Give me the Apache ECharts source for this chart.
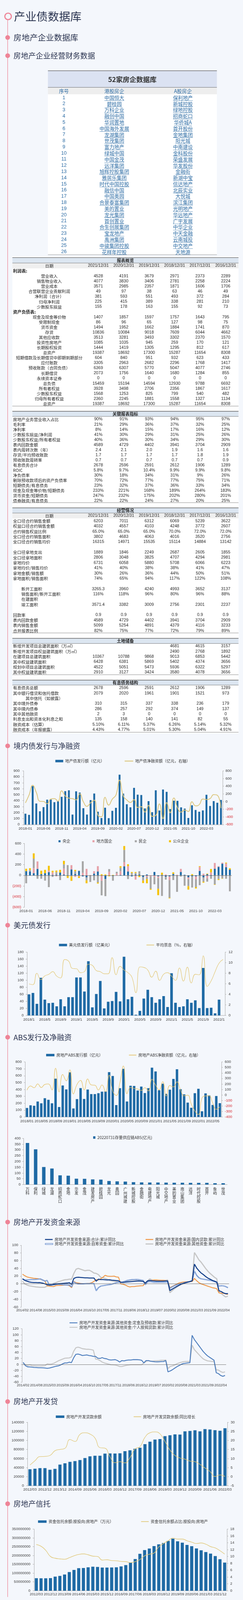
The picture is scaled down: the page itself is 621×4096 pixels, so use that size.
<!DOCTYPE html>
<html>
<head>
<meta charset="utf-8">
<script src="https://cdn.jsdelivr.net/npm/echarts@6/dist/echarts.min.js"></script>
<style>
html,body{margin:0;padding:0;background:#f4f7fc;}
#main{width:621px;height:4096px;}
</style>
</head>
<body>
<div id="main"></div>
<script>
// ---------------- DATA ----------------
const hkFirms = ['中国恒大','碧桂园','万科企业','融创中国','华润置地','中国海外发展','龙湖集团','世茂集团','富力地产','绿城中国','中国金茂','远洋集团','旭辉控股集团','雅居乐集团','时代中国控股','融信中国','中国奥园','合景泰富集团','美的置业','龙光集团','首创置业','合生创展集团','宝龙地产','禹洲集团','中骏集团控股','花样年控股'];
const aFirms = ['保利地产','新城控股','绿地控股','招商蛇口','华侨城A','首开股份','金地集团','阳光城','中南建设','金科股份','荣盛发展','华发股份','金融街','新湖中宝','信达地产','北辰实业','大悦城','滨江集团','光明地产','华远地产','广宇发展','中华企业','中天金融','云南城投','中交地产','天地源'];

const reportDates = ['2021/12/31','2020/12/31','2019/12/31','2018/12/31','2017/12/31','2016/12/31'];
const incomeRows = [
  ['营业收入','4528','4191','3679','2971','2373','2289'],
  ['销售物业收入','4077','3830','3406','2781','2258','2224'],
  ['营业成本','3571','2985','2357','1871','1606','1706'],
  ['合营联营企业贡献利润','49','97','38','63','46','49'],
  ['净利润（合计）','381','593','551','493','372','284'],
  ['归母净利润','225','415','389','338','281','210'],
  ['少数股东损益','155','178','163','155','92','73']
];
const balanceRows = [
  ['现金及现金等价物','1407','1857','1597','1757','1643','795'],
  ['受限制现金','86','96','65','127','98','75'],
  ['货币资金','1494','1952','1662','1884','1741','870'],
  ['存货','10836','10084','9018','7609','6044','4662'],
  ['其他应收款','3513','3281','3493','3302','2370','1570'],
  ['投资性房地产','1085','1035','945','259','170','121'],
  ['长期股权投资','1444','1419','1305','1295','812','617'],
  ['总资产','19387','18692','17300','15287','11654','8308'],
  ['短期借款及长期借贷中即期到期部分','604','840','951','932','623','433'],
  ['应付账款','3305','2963','2682','2296','1768','1417'],
  ['预收账款（合同负债）','6369','6307','5770','5047','4077','2746'],
  ['长期借贷','2073','1756','1640','1680','1284','855'],
  ['永续资本证券','0','0','0','0','0','0'],
  ['总负债','15459','15194','14594','12930','9788','6692'],
  ['所有者权益','3928','3498','2706','2356','1867','1617'],
  ['少数股东权益','1568','1253','825','799','540','482'],
  ['归母所有者权益','2360','2245','1881','1558','1327','1134'],
  ['总资产','19387','18692','17300','15287','11654','8308']
];
const keyRows = [
  ['房地产业务营业收入占比','90%','91%','93%','94%','95%','97%'],
  ['毛利率','21%','29%','36%','37%','32%','25%'],
  ['净利率','8%','14%','15%','17%','16%','12%'],
  ['少数股东损益/净利润','41%','30%','29%','31%','25%','26%'],
  ['少数股东权益/所有者权益','40%','36%','30%','34%','29%','30%'],
  ['表内回款金额','4589','4729','4402','3941','3704','2909'],
  ['表内周转次数（年）','2.4','2.1','2.0','1.9','1.6','1.6'],
  ['存货/平均预收账款','1.7','1.7','1.7','1.7','1.8','1.9'],
  ['预收账款周转率','0.7','0.7','0.7','0.7','0.7','0.9'],
  ['有息债务合计','2678','2596','2591','2612','1906','1289'],
  ['ROIC','5.8%','9.7%','10.4%','9.9%','9.9%','9.8%'],
  ['净负债率','30%','18%','34%','31%','9%','26%'],
  ['剔除预收款项后的资产负债率','70%','72%','77%','77%','75%','71%'],
  ['短期债务/有息债务','23%','32%','37%','36%','33%','34%'],
  ['现金及现金等价物/短期债务','233%','221%','168%','189%','264%','183%'],
  ['货币资金/短期债务','247%','232%','175%','202%','280%','201%'],
  ['债券融资/有息债务','22%','22%','24%','27%','20%','25%']
];
const operRows = [
  ['全口径合约销售金额','6203','7011','6312','6069','5239','3622'],
  ['权益口径合约销售金额','4032','4557','4103','4248','3772','2607'],
  ['合约销售权益比例','65.0%','65.0%','65.0%','70.0%','72.0%','72.0%'],
  ['全口径合约销售面积','3802','4683','4063','4016','3520','2756'],
  ['全口径合约销售均价','16315','14971','15535','15114','14884','13142'],
  [''],
  ['全口径拿地支出','1889','1846','2249','2687','2605','1855'],
  ['全口径拿地面积','2806','3048','3825','4707','4294','2981'],
  ['拿地均价','6731','6058','5880','5708','6066','6223'],
  ['拿地均价/销售均价','41%','40%','38%','38%','41%','47%'],
  ['拿地金额/销售额','30%','26%','36%','44%','50%','51%'],
  ['拿地面积/销售面积','74%','65%','94%','117%','122%','108%'],
  [''],
  ['\u3000\u3000新开工面积','3265.3','3960','4240','4993','3652','3137'],
  ['\u3000\u3000销售面积/新开工面积','116%','118%','96%','80%','96%','88%'],
  ['\u3000\u3000在建面积'],
  ['\u3000\u3000竣工面积','3571.4','3382','3009','2756','2301','2237'],
  [''],
  ['回款率','0.9','0.9','0.9','0.9','0.9','0.9'],
  ['表内回款金额','4589','4729','4402','3941','3704','2909'],
  ['表内销售金额','5099','5254','4891','4379','4116','3233'],
  ['合并报表比例','82%','75%','77%','72%','79%','89%']
];
const landRows = [
  ['新增开发项目总建筑面积（万㎡）','','','','4681','4615','3157'],
  ['新增开发项目权益建筑面积（万㎡）','','','','2490','2768','1892'],
  ['在建项目总建筑面积','10367','10788','9868','9013','6853','5442'],
  ['其中权益建筑面积','6428','6381','5869','5402','4374','3656'],
  ['规划中项目总建筑面积','4522','5051','5473','5936','6322','5297'],
  ['其中权益建筑面积','2910','3127','3424','3580','4078','3656']
];
const debtRows = [
  ['有息债务总额','2678','2596','2591','2612','1906','1289'],
  ['其中银行借贷和信托借款','2079','2020','1961','1901','1521','973'],
  ['\u3000\u3000\u3000其中信托（如披露）'],
  ['其中境外债券','310','315','337','338','236','179'],
  ['其中境内债券','286','257','292','374','149','137'],
  ['其中其他融资','2','3','0','0','0','0'],
  ['利息支出和资本化利息之和','135','158','140','141','82','55'],
  ['融资成本（估算）','5.10%','6.11%','5.37%','6.26%','5.14%','5.32%'],
  ['融资成本（年报披露）','4.43%','4.77%','5.01%','5.30%','5.04%','4.91%']
];

// category helpers (labels only)
function monthCats(y, m, n, sep, pad, skipJan) {
  const out = [];
  while (out.length < n) {
    if (!(skipJan && m === 1)) out.push(y + sep + (pad && m < 10 ? '0' + m : m));
    m++; if (m > 12) { m = 1; y++; }
  }
  return out;
}
function quarterCats(y, m, n) {
  const out = [];
  while (out.length < n) { out.push(y + '/' + (m < 10 ? '0' + m : m)); m += 3; if (m > 12) { m -= 12; y++; } }
  return out;
}
const months1 = monthCats(2018, 1, 55, '-', true);
const months3 = monthCats(2018, 1, 50, '/', false);
const months4 = monthCats(2018, 1, 55, '/', true);
const months6 = monthCats(2014, 2, 93, '/', true, true);
const quarters8 = ['2012/03','2012/06','2012/09','2012/12','2013/06','2013/09'].concat(quarterCats(2013, 12, 34));
const quarters9 = quarterCats(2012, 3, 41);

// 境内债发行与净融资
const bondIssue = [182,162,645,353,222,292,417,420,375,390,465,560,574,167,557,536,274,167,410,520,215,109,282,107,230,280,836,519,340,289,615,501,495,270,392,207,574,235,587,548,259,400,397,288,267,110,323,244,215,237,499,311,393,365,412];
const bondNet = [-35,170,424,239,7,2,-58,65,76,7,280,146,88,76,42,204,-5,-125,-32,35,-352,-399,111,-93,65,169,559,151,42,-23,49,-155,-132,-276,-97,-387,-364,-63,-445,-28,-294,93,-160,-276,-220,-260,-5,-114,-81,65,53,76,181,165,-174];
// net financing by owner type
const netCentral = [78,71,40,121,22,40,60,10,12,53,14,-10,111,26,80,-20,-38,0,32,71,-4,-71,0,-14,0,6,168,71,-20,16,16,-34,16,0,63,-20,10,-24,-20,26,0,63,10,-38,-20,-20,83,-38,20,6,123,158,218,152,107];
const netLocal = [0,0,95,140,0,0,32,45,-20,0,113,0,80,-30,-20,46,121,6,45,101,-100,0,67,0,36,71,80,103,0,-81,0,0,-30,-20,-30,-30,0,16,-71,0,10,58,0,-36,0,-55,75,30,-59,50,109,14,20,73,0];
const netPrivate = [-150,32,180,-65,-65,-100,-222,-30,48,-90,80,192,-20,50,10,218,-57,-125,-95,-135,-273,-321,50,-87,30,65,230,-71,42,30,61,-65,-40,-232,-139,-203,-388,-57,-331,-89,-311,-24,-196,-130,-210,-147,-186,-81,-60,-65,-172,-71,-59,-65,-301];
const netPublic = [46,30,98,0,65,63,87,30,30,50,65,-40,-85,26,-30,0,-55,0,0,-20,20,16,-18,8,0,30,73,34,20,16,-34,-47,-80,-20,0,-121,40,0,-12,30,0,0,0,-65,22,-26,14,-20,12,63,-8,-18,-6,14,26];

// 美元债
const usdIssue = [60,64,33,107,45,35,36,26,46,26,52,52,108,108,68,154,23,61,98,20,39,41,67,40,167,46,53,2,13,48,73,52,36,46,55,24,120,36,24,26,46,36,43,21,135,21,22,6,45,null];
const usdCoupon = [5.98,5.83,8.0,6.8,7.5,7.8,8.3,7.45,7.1,10.6,10.3,8.9,8.85,8.1,8.3,9.7,9.5,8.5,8.3,7.9,7.9,10.95,7.7,9.3,8.6,8.1,7.25,4.3,9.2,9.1,8.6,7.25,8.4,6.65,7.8,8.1,7.45,6.65,9.0,6.5,9.15,6.15,7.8,7.7,11.3,5.5,6.55,8.3,9.9,10.6];

// ABS
const absIssue = [131,170,163,225,199,273,250,199,557,145,458,401,649,124,260,420,262,399,333,333,346,368,371,652,596,173,419,700,225,454,451,385,442,348,419,717,662,388,484,336,397,553,694,404,329,209,134,346,410,83,343,314,175,305,201];
const absNet = [87,164,131,200,136,191,200,91,487,55,373,258,458,18,191,264,91,291,182,178,91,182,58,358,73,-9,218,527,22,136,118,109,82,131,73,285,182,91,242,-18,173,145,240,91,-15,-4,-164,-291,-355,-55,-18,-15,-145,-260,-215];
const scfFirms = ['万科','保利','绿城','龙湖','招商蛇口','金地','华发','金茂','建发房产','碧桂园','龙光','奥园','广州城建','新城控股','金融街','电建地产','阳光城','中交地产','美的置业','南山集团','远洋','时代控股','首开','象屿','世茂'];
const scfValues = [360,305,152,139,80,77,51,50,45,43,31,28,26,21,19,18,18,17,16,16,15,15,15,12,12];

// 房地产开发资金来源 累计同比
const fundTotal = [
  13,9,7,5,4,3.5,3.5,3,3,2,0,
  -2,-3,-3,-2,-1,0,0.5,1,1.5,2,3,
  -1.5,14,16.5,17,16.5,16,15.5,15.5,15,15,15,
  7,12,11,11,10.5,10,10.5,9.5,9,8.5,8,
  4,4,4.5,5,5.5,6,6.5,7,7.5,7,6.5,
  2,7.5,9,8,7.5,7,7,7,7,7.5,7.6,
  -17.5,-14,-10.5,-7,-4,-1,1,3,4.5,6,8,
  51,41,34,28,24,19,15,12,9,7,4.5,
  -18,-20,-23.5,-25.5,-25.3];
const fundLoan = [
  25,21,18,16.5,15.5,14.5,14,13.5,12,10,8,
  -5,-6,-6.5,-7,-4.5,-4,-4,-3.5,-3,-3,-4.8,
  -10,6,3,2,1,0.5,0.5,1,1,3,6.4,
  11,10,13,17,22,20,19.5,19.5,20,18,17.3,
  0,-1,-3,-6,-8,-7,-7,-6,-5.5,-5,-4.9,
  3,5,7,9,10,10,9.5,9,9,8.5,7,
  -10,-7,-4,-1,2,3.5,4.5,5,5.5,5.5,6.1,
  14,8,3,0,-2,-4,-6,-8,-10,-11,-12.7,
  -23.5,-24,-24.5,-26,-27.5];
const fundSelf = [
  13,10,10.5,10.5,11,11,11.5,12,13,10,7,
  9,-3,-1,0,0,-0.5,-1,-2,-2.5,-3,-3,
  -8,5,1,0,0,0,0.5,0.5,0.5,1,0.5,
  -18,-10,-6,-5,-4,-3,-2,-1,1,3,4,
  4,5,7,9,10,11,11,11.5,11,10,9,
  -2,5,6,5,4,4,4,4,4,4.5,5,
  -12,-8,-5,-3,-1,1,2,4,5,6,8,
  33,22,16,13,12,11,10,9,8,6,4,
  -6,-5,-5.5,-7,-10];
const fundOther = [
  7,0,-3,-5,-6,-7,-8,-8.5,-9,-9,-9,
  -6,-4,-2,1,3,5.5,7,9,10.5,11,12,
  12,27,38,40,38,36,34,35,35,32,28,
  27,24,17,16,14,12,9,8,7,6,6,
  4,3,5,7,9,10,10,10,10,9,8,
  2,8,13,10,9,9,9,9,9,9,10,
  -23,-18,-13,-9,-5,-2,0,2,4,6,8,
  81,72,62,56,48,40,33,27,22,17,13,
  -22,-25,-30,-34,-32];
const fundDeposit = [
  7,-4,-8,-8.5,-9,-10,-10.5,-11,-11,-11.5,-12,
  -13,-12,-10,-8,-6,-5,-2,2,5,5,7.5,
  6,22,34,35,33,30,31,32,30,29,27,
  27,21,20,23,20,19,16,15,15.5,16,13,
  8,13,12,14,15,15,16,16,16,15.5,14,
  5,13,13,11,10,9,8.5,9,9.5,10,13,
  -25,-22,-18,-13,-8,-4,0,3,4,5,6,
  98,84,74,64,54,44,36,29,24,19,14,
  -28,-31,-37,-40,-37];
const fundMortgage = [
  3,0,-3,-1,-4,-4.5,-5,-5,-5,-4.5,-4,
  2,1,1.5,4,8,12,15,18,21,21.5,22,
  25,44,56,58,56,53,52,51,51,50,48,
  18,17,13,8,5,3,1,-1,-1.5,-2,-4,
  -7,-7,-5,-3,-2,-1,-1,-1,-1,-1,-1,
  5,10,13,11,11,12,12.5,13,14,14,15,
  -14,-7,-5,-2,2,5,7,9,10,10,10,
  65,50,42,34,26,19,15,12,11,10,10,
  -18,-19,-24,-27,-25];

// 房地产开发贷
const devLoan = [36400,37600,38900,38900,35300,37300,46700,49600,52700,54400,56700,61100,64900,66200,66200,70900,71300,71100,71600,76200,78200,81600,83800,91800,97100,101800,102900,109300,111300,113300,112900,120000,120700,122200,120000,124900,124000,122400,121100,126700];
const devLoanYoY = [6.4,8.8,11.1,11.2,11.7,14.3,15.0,15.6,20.5,19.4,23.3,24.2,23.5,21.3,16.0,15.7,11.0,7.7,8.3,7.6,10.5,15.3,16.5,21.7,24.2,24.7,23.6,19.4,14.7,11.7,10.3,9.7,8.6,8.3,6.8,4.8,2.9,0.1,0.95,0.1];

// 房地产信托
const trustBalance = [71000000,70500000,70500000,71500000,80000000,84000000,92000000,106000000,118000000,128000000,129000000,133000000,136500000,135000000,131500000,131500000,132000000,133000000,138000000,145600000,160000000,180000000,209500000,231000000,239500000,253700000,263800000,271400000,283000000,295800000,280600000,273000000,260000000,253000000,240000000,229800000,219700000,210600000,196900000,179000000,159800000];
const trustShare = [13.5,13.0,11.8,10.0,9.5,9.3,9.2,9.65,10.2,10.6,10.75,10.5,10.1,10.0,8.95,9.05,8.8,8.75,8.55,8.5,8.2,8.5,9.1,10.2,10.65,11.0,12.8,13.8,14.6,15.4,15.1,15.1,14.6,14.2,13.8,13.95,13.6,12.9,12.5,11.7,10.7];

// ---------------- LAYOUT ----------------
const k = 0.575;
const S = v => +(v * k).toFixed(2);
const CJK = "'Noto Sans CJK SC','Noto Sans',sans-serif";
const NUM = "'Liberation Sans',Arial,'Noto Sans CJK SC',sans-serif";
const PINK = '#ee8497', HEAD = '#2b3450', LINK = '#2a6aa3', BG = '#f4f7fc';
const BLUE = '#1f6aa5', KHAKI = '#dcc67c', RED = '#d7262d', AXC = '#aaaaaa', LBL = '#404040';
const G = [];
function txt(x, y, s, size, o) {
  o = o || {};
  const al = o.align || 'left';
  G.push({ type: 'text', silent: true, z: 20, x: S(x), y: S(y),
    style: { text: String(s), fill: o.color || '#222', fontSize: S(size), fontFamily: o.family || CJK,
      fontWeight: o.weight || 'normal', textAlign: al, textVerticalAlign: 'middle', align: al, verticalAlign: 'middle' } });
}
function rect(x, y, w, h, fill, z) {
  G.push({ type: 'rect', silent: true, z: z || 1, shape: { x: S(x), y: S(y), width: S(w), height: S(h) }, style: { fill: fill } });
}
function hline(x1, x2, y, color, w) {
  G.push({ type: 'line', silent: true, z: 6, shape: { x1: S(x1), y1: S(y), x2: S(x2), y2: S(y) }, style: { stroke: color, lineWidth: S(w) } });
}
function textWidth(s, size) {
  let w = 0;
  for (const ch of s) w += /[\u0000-\u00ff]/.test(ch) ? size * 0.6 : size;
  return w;
}

// timeline + headings
G.push({ type: 'line', silent: true, z: 2, shape: { x1: S(34), y1: S(90), x2: S(34), y2: S(7110) }, style: { stroke: PINK, lineWidth: S(2.2) } });
G.push({ type: 'circle', silent: true, z: 3, shape: { cx: S(36), cy: S(73), r: S(14.5) }, style: { fill: BG, stroke: PINK, lineWidth: S(5) } });
txt(62, 73, '产业债数据库', 50, { color: HEAD });
function section(y, t, size) {
  G.push({ type: 'circle', silent: true, z: 3, shape: { cx: S(34), cy: S(y), r: S(10.5) }, style: { fill: PINK } });
  txt(60, y, t, size, { color: HEAD });
}
section(167, '房地产企业数据库', 36);
section(248, '房地产企业经营财务数据', 33);
section(3321, '境内债发行与净融资', 33);
section(4119, '美元债发行', 33);
section(4618, 'ABS发行及净融资', 33);
section(5441, '房地产开发资金来源', 33);
section(6240, '房地产开发贷', 33);
section(6695, '房地产信托', 33);

// 52 firms table
hline(213, 964, 315, '#555', 2);
rect(213, 316, 751, 73, '#dbe2f2');
txt(588, 353, '52家房企数据库', 30, { weight: 'bold', align: 'center', color: '#333' });
hline(213, 964, 389, '#555', 1.5);
rect(213, 390, 751, 30, '#eeeeee');
rect(213, 420, 751, 714, '#ffffff');
txt(284, 405, '序号', 22, { align: 'center', color: LINK });
txt(508, 405, '港股房企', 22, { align: 'center', color: LINK });
txt(813, 405, 'A股房企', 22, { align: 'center', color: LINK });
function link(x, y, s) {
  txt(x, y, s, 22, { align: 'center', color: LINK });
  const w = textWidth(s, 22);
  hline(x - w / 2, x + w / 2, y + 13, LINK, 1.2);
}
hkFirms.forEach((n, i) => {
  const y = 435 + 27.45 * i;
  txt(284, y, i + 1, 22, { align: 'center', color: LINK, family: NUM });
  link(508, y, n);
  link(813, y, aFirms[i]);
});
hline(213, 964, 1134, '#888', 1.5);

// financial tables
const COLS = [437, 550, 663, 776, 889, 1003];
rect(55, 1140, 1005, 2124, '#ffffff', 0);
function band(top, bottom, title) {
  hline(55, 1060, top, '#444', 2);
  rect(55, top + 1, 1005, bottom - top - 1, '#dce6f1');
  txt(557, (top + bottom) / 2, title, 19, { weight: 'bold', align: 'center', color: '#222' });
  hline(55, 1060, bottom, '#444', 1.2);
}
function dateRow(y0, y1) {
  rect(55, y0, 1005, y1 - y0, '#efefef');
  const yc = (y0 + y1) / 2;
  txt(219, yc, '日期', 18.5, { align: 'center' });
  reportDates.forEach((d, i) => txt(COLS[i], yc, d, 18.5, { align: 'center', family: NUM }));
}
function tableRows(list, y0, pitch, labelX, labelAlign) {
  list.forEach((r, i) => {
    const y = y0 + pitch * i;
    if (r[0]) txt(labelX, y, r[0], 18.5, { align: labelAlign });
    for (let c = 1; c < r.length; c++) if (r[c] !== '') txt(COLS[c - 1], y, r[c], 18.5, { align: 'center', family: NUM });
  });
}
band(1147, 1171, '报表概览');
dateRow(1172, 1195);
txt(58, 1207, '利润表:', 19, { weight: 'bold' });
tableRows(incomeRows, 1230, 22.7, 219, 'center');
txt(58, 1389, '资产负债表:', 19, { weight: 'bold' });
tableRows(balanceRows, 1412, 22.7, 219, 'center');
hline(55, 1060, 1808, '#555', 1.2);

band(1831, 1854, '关键报表指标');
tableRows(keyRows, 1867, 22.7, 58, 'left');
hline(55, 1060, 2238, '#555', 1.2);

band(2261, 2284, '经营情况');
dateRow(2285, 2308);
tableRows(operRows, 2320, 23.24, 58, 'left');
hline(55, 1060, 2818, '#555', 1.2);

band(2842, 2865, '土地储备');
tableRows(landRows, 2877, 23.3, 58, 'left');
hline(55, 1060, 3004, '#555', 1.2);

band(3028, 3050, '有息债务结构');
tableRows(debtRows, 3063, 23.25, 58, 'left');
hline(55, 1060, 3260, '#555', 1.2);

// ---------------- CHARTS ----------------
const gridBox = [
  [105, 990, 3432, 3671], [108, 1030, 3755, 4039], [120, 1000, 4239, 4521], [112, 985, 4728, 4973],
  [104, 1010, 5068, 5274], [95, 1018, 5544, 5819], [98, 1005, 5916, 6154], [122, 1011, 6332, 6615], [151, 1009, 6808, 7082]
];
const grids = gridBox.map(b => ({ left: S(b[0]), top: S(b[2]), width: S(b[1] - b[0]), height: S(b[3] - b[2]) }));
const FS = S(16.5);
function catAxis(gi, data, interval, margin, o) {
  o = o || {};
  return { type: 'category', gridIndex: gi, data: data, boundaryGap: true,
    axisLine: { show: o.line !== false, onZero: false, lineStyle: { color: AXC, width: 1 } },
    axisTick: { show: false },
    axisLabel: { interval: interval, margin: margin, fontSize: o.fs || FS, color: o.color || LBL, fontFamily: o.family || NUM,
      formatter: o.fmt, lineHeight: o.lh },
    splitLine: { show: false } };
}
function valAxis(gi, min, max, interval, margin, o) {
  o = o || {};
  const lab = { margin: margin, fontSize: FS, color: LBL, fontFamily: NUM, formatter: v => String(v) };
  if (o.neg) {
    lab.formatter = v => v < 0 ? '{r|' + (o.neg === 'paren' ? '(' + (-v) + ')' : v) + '}' : String(v);
    lab.rich = { r: { color: RED, fontSize: FS, fontFamily: NUM } };
  }
  return { type: 'value', gridIndex: gi, min: min, max: max, interval: interval, position: o.pos || 'left',
    axisLine: { show: true, lineStyle: { color: AXC } },
    axisTick: { show: true, length: 3, lineStyle: { color: AXC } },
    axisLabel: lab, splitLine: { show: false } };
}
const zeroLine = { silent: true, symbol: 'none', label: { show: false }, animation: false,
  lineStyle: { color: '#555', width: 0.8, type: 'solid' }, data: [{ yAxis: 0 }] };

const xAxis = [
  catAxis(0, months1, 4, 6),
  catAxis(1, months1, 4, 5.5, { line: false }),
  catAxis(2, months3, 3, 6),
  catAxis(3, months4, 3, 6),
  catAxis(4, scfFirms, 0, 6, { family: CJK, color: '#333', fs: S(17.5), lh: S(18), fmt: v => v.split('').join('\n') }),
  catAxis(5, months6, 5, 4.5, { line: false, fs: S(15.5) }),
  catAxis(6, months6, 5, 4, { line: false, fs: S(15.5) }),
  catAxis(7, quarters8, 2, 5),
  catAxis(8, quarters9, 2, 5, { fs: S(16.3) })
];
const yAxis = [
  valAxis(0, 0, 900, 100, 10),
  valAxis(0, -600, 800, 200, 7, { pos: 'right', neg: 'minus' }),
  valAxis(1, -600, 600, 200, 8, { neg: 'paren' }),
  valAxis(2, 0, 180, 20, 8.5),
  valAxis(2, 0, 12, 2, 9, { pos: 'right' }),
  valAxis(3, 0, 800, 100, 9),
  valAxis(3, -400, 600, 100, 8, { pos: 'right', neg: 'minus' }),
  valAxis(4, 0, 400, 50, 7),
  valAxis(5, -60, 100, 20, 8),
  valAxis(6, -60, 120, 20, 8.5),
  valAxis(7, 0, 140000, 20000, 9),
  valAxis(7, -5, 30, 5, 8, { pos: 'right' }),
  valAxis(8, 0, 350000000, 50000000, 9),
  valAxis(8, 0, 18, 2, 8, { pos: 'right' })
];

const N6 = ['房地产开发资金来源:合计:累计同比', '房地产开发资金来源:国内贷款:累计同比', '房地产开发资金来源:自筹资金:累计同比', '房地产开发资金来源:其他资金:累计同比'];
const N7 = ['房地产开发资金来源:其他资金:定金及预收款:累计同比', '房地产开发资金来源:其他资金:个人按揭贷款:累计同比'];

function bar(name, xi, yi, data, width, color, extra) {
  return Object.assign({ type: 'bar', name: name, xAxisIndex: xi, yAxisIndex: yi, data: data, barWidth: width, color: color, itemStyle: { color: color } }, extra || {});
}
function line(name, xi, yi, data, color, w, smooth, extra) {
  return Object.assign({ type: 'line', name: name, xAxisIndex: xi, yAxisIndex: yi, data: data, smooth: smooth, showSymbol: false, symbol: 'none',
    color: color, itemStyle: { color: color }, lineStyle: { color: color, width: w } }, extra || {});
}

const series = [
  bar('地产债发行额（亿元）', 0, 0, bondIssue, '52%', BLUE),
  line('地产债净融资额（亿元，右轴）', 0, 1, bondNet, KHAKI, S(3.5), true),

  bar('央企', 1, 2, netCentral, '50%', BLUE, { stack: 'own', markLine: zeroLine }),
  bar('地方国企', 1, 2, netLocal, '50%', '#e6a0a8', { stack: 'own' }),
  bar('民企', 1, 2, netPrivate, '50%', '#a6a6a6', { stack: 'own' }),
  bar('公众企业', 1, 2, netPublic, '50%', '#f5c200', { stack: 'own' }),

  bar('美元债发行额（亿美元）', 2, 3, usdIssue, '66%', BLUE),
  line('平均票息（%，右轴）', 2, 4, usdCoupon, '#e2c56e', S(2), true),

  bar('房地产ABS发行额（亿元）', 3, 5, absIssue, '68%', BLUE),
  line('房地产ABS净融资额（亿元，右轴）', 3, 6, absNet, '#e6c266', S(2.2), true),

  bar('20220731存量供应链ABS(亿元)', 4, 7, scfValues, '42%', BLUE),

  line(N6[3], 5, 8, fundOther, '#c6c6c6', S(5), false, { markLine: zeroLine }),
  line(N6[1], 5, 8, fundLoan, '#f0994a', S(4), false),
  line(N6[2], 5, 8, fundSelf, '#3f6fc0', S(4.5), false),
  line('自筹资金内线', 5, 8, fundSelf, '#ffffff', S(1.4), false),
  line(N6[0], 5, 8, fundTotal, '#133f8a', S(4.5), false),

  line(N7[1], 6, 9, fundMortgage, '#c8c8c8', S(4.5), false, { markLine: zeroLine }),
  line(N7[0], 6, 9, fundDeposit, '#4f7fbe', S(4), false),

  bar('房地产开发贷款余额', 7, 10, devLoan, '62%', BLUE),
  line('房地产开发贷款余额:同比增长', 7, 11, devLoanYoY, '#e0c673', S(2.2), true),

  bar('资金信托余额:按投向:房地产（万元）', 8, 12, trustBalance, '66%', BLUE),
  line('资金信托余额占比:按投向:房地产', 8, 13, trustShare, '#e0c673', S(2.4), true)
];

function leg(name, x, y, w, h, extra) {
  return { show: true, left: S(x), top: S(y) - 6.5, padding: 0, itemGap: 0, itemWidth: S(w), itemHeight: S(h), selectedMode: false,
    textStyle: { fontSize: S(17.5), color: '#333', fontFamily: CJK },
    data: [Object.assign({ name: name, icon: 'rect' }, extra || {})] };
}
const legend = [
  leg('地产债发行额（亿元）', 246, 3391, 35, 11),
  leg('地产债净融资额（亿元，右轴）', 554, 3391, 38, 4),
  leg('央企', 260, 3748, 9, 9), leg('地方国企', 411, 3748, 9, 9), leg('民企', 599, 3748, 9, 9), leg('公众企业', 751, 3748, 9, 9),
  leg('美元债发行额（亿美元）', 262, 4210, 36, 11),
  leg('平均票息（%，右轴）', 651, 4210, 34, 3),
  leg('房地产ABS发行额（亿元）', 205, 4700, 37, 11),
  leg('房地产ABS净融资额（亿元，右轴）', 573, 4700, 33, 3),
  leg('20220731存量供应链ABS(亿元)', 414, 5067, 10, 11),
  leg(N6[0], 200, 5521, 34, 4.5), leg(N6[1], 647, 5521, 34, 4.5),
  leg(N6[2], 200, 5541, 34, 5, { itemStyle: { color: '#ffffff', borderColor: '#3f6fc0', borderWidth: 1 } }),
  leg(N6[3], 647, 5541, 34, 5),
  leg(N7[0], 309, 5892, 35, 4), leg(N7[1], 309, 5912, 35, 4),
  leg('房地产开发贷款余额', 248, 6310, 38, 11), leg('房地产开发贷款余额:同比增长', 594, 6310, 33, 3),
  leg('资金信托余额:按投向:房地产（万元）', 169, 6777, 38, 11), leg('资金信托余额占比:按投向:房地产', 627, 6777, 34, 3)
];

const chart = echarts.init(document.getElementById('main'), null, { renderer: 'canvas', width: 621, height: 4096 });
chart.setOption({
  backgroundColor: BG,
  animation: false,
  textStyle: { fontFamily: NUM },
  grid: grids,
  xAxis: xAxis,
  yAxis: yAxis,
  legend: legend,
  series: series,
  graphic: { elements: G }
});
</script>
</body>
</html>
